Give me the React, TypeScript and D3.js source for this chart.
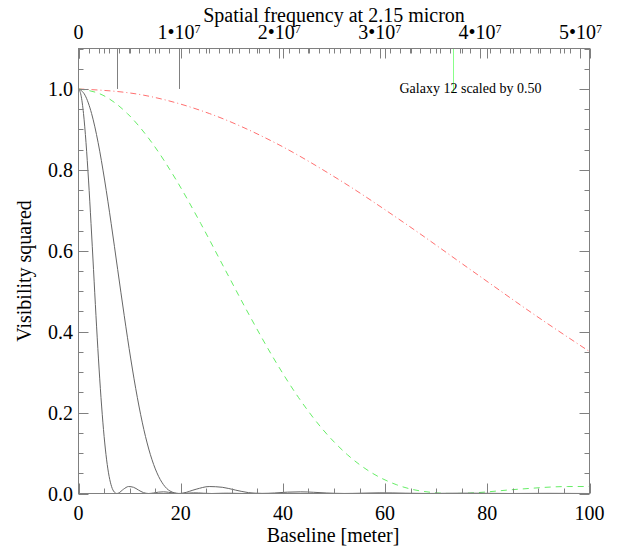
import React from 'react';
import * as d3 from 'd3';

// bottom axis (baseline, metres) and left axis (visibility squared)
const baselineTicks = [0, 20, 40, 60, 80, 100];
const visTicks = [0, 0.2, 0.4, 0.6, 0.8, 1.0];
// top axis, spatial frequency: mantissa of n•10^7
const freqTicks = [0, 1e7, 2e7, 3e7, 4e7, 5e7];
const freqMantissa = ['0', '1', '2', '3', '4', '5'];

// narrow source (black, first null ~7.5 m)
const narrowBase = [0, 0.49, 0.98, 1.47, 1.96, 2.45, 2.94, 3.42, 3.91, 4.4, 4.89, 5.38, 5.87, 6.36, 6.85, 7.5, 7.83, 8.81, 9.79, 10.76, 11.74, 12.72, 13.73, 14.68, 15.66, 16.64, 17.61, 18.59, 19.9, 20.55, 21.53, 22.51, 23.48, 24.46, 26.07, 27.4, 28.38, 29.36, 32.2, 35, 38.4, 41.5, 44.5, 50, 100];
const narrowVis = [1, 0.9845, 0.9393, 0.8674, 0.7748, 0.6677, 0.5534, 0.4396, 0.3326, 0.2376, 0.1581, 0.096, 0.0511, 0.022, 0.0062, 0, 0.0011, 0.0106, 0.0172, 0.0154, 0.0085, 0.0022, 0, 0.0013, 0.0034, 0.0041, 0.003, 0.0012, 0, 0.0002, 0.001, 0.0016, 0.0014, 0.0007, 0, 0.0004, 0.0007, 0.0008, 0, 0.0004, 0, 0.0003, 0, 0.0001, 0];

// wider source (black, first null ~19.6 m)
const wideBase = [0, 1.28, 2.56, 3.84, 5.11, 6.39, 7.67, 8.95, 10.23, 11.51, 12.79, 14.07, 15.35, 16.62, 17.9, 19.6, 20.46, 23.02, 25.58, 28.13, 30.69, 33.25, 35.89, 38.36, 40.92, 43.48, 46.03, 48.59, 52.02, 53.71, 56.27, 58.82, 61.38, 63.94, 68.13, 71.61, 74.17, 76.73, 84.2, 89.5, 92.1, 94.6, 100];
const wideVis = [1, 0.9845, 0.9393, 0.8674, 0.7748, 0.6677, 0.5534, 0.4396, 0.3326, 0.2376, 0.1581, 0.096, 0.0511, 0.022, 0.0062, 0, 0.0011, 0.0106, 0.0172, 0.0154, 0.0085, 0.0022, 0, 0.0013, 0.0034, 0.0041, 0.003, 0.0012, 0, 0.0002, 0.001, 0.0016, 0.0014, 0.0007, 0, 0.0004, 0.0007, 0.0008, 0, 0.0003, 0.0004, 0.0003, 0];

// Galaxy 12 (green dashed)
const galaxyBase = [0, 4.78, 9.56, 14.35, 19.13, 23.91, 28.69, 33.48, 38.26, 43.04, 47.82, 52.61, 57.39, 62.17, 66.95, 73.3, 76.52, 86.08, 95.65, 100];
const galaxyVis = [1, 0.9845, 0.9393, 0.8674, 0.7748, 0.6677, 0.5534, 0.4396, 0.3326, 0.2376, 0.1581, 0.096, 0.0511, 0.022, 0.0062, 0, 0.0011, 0.0106, 0.0172, 0.0173];

// scaled comparison (red dash-dot)
const scaledBase = [0, 12.8, 25.6, 38.4, 51.1, 63.9, 76.7, 89.5, 100];
const scaledVis = [1, 0.9845, 0.9393, 0.8674, 0.7748, 0.6677, 0.5534, 0.4396, 0.3509];

// resolution markers hanging from the top axis (baseline, m)
const darkMarkers = [7.5, 19.6];
const galaxyMarker = 73.3;

const W = 626;
const H = 548;
const FONT = "'Liberation Serif', 'Times New Roman', serif";
const FRAME = '#808080';

export default function App() {
  const left = 78.5, right = 589.5, top = 48.5, bottom = 493.5;

  const x = d3.scaleLinear().domain([0, 100]).range([left, right]);
  const y = d3.scaleLinear().domain([0, 1.1]).range([bottom, top]);
  const fx = d3.scaleLinear().domain([0, 5.09e7]).range([left, right]);

  const line = d3.line<[number, number]>()
    .x((d) => x(d[0]))
    .y((d) => y(d[1]))
    .curve(d3.curveMonotoneX);

  const zip = (a: number[], b: number[]) => a.map((v, i) => [v, b[i]] as [number, number]);

  const xMinor = x.ticks(20);
  const yMinor = d3.range(0, 1.1001, 0.05);
  const fMinor = fx.ticks(50);

  const isMajorX = (v: number) => Math.abs(v % 20) < 1e-6;
  const isMajorY = (v: number) => Math.abs(Math.round(v * 10) - v * 10) < 1e-6 && Math.round(v * 10) % 2 === 0;
  const isMajorF = (v: number) => Math.abs(v % 1e7) < 1;

  return (
    <svg width={W} height={H} style={{ position: 'absolute', left: 0, top: 0, background: '#fff' }}>
      <rect x={0} y={0} width={W} height={H} fill="#fff" />

      {/* curves */}
      <g fill="none" strokeWidth={1}>
        <path d={line(zip(scaledBase, scaledVis)) || ''} stroke="#ff7070" strokeDasharray="6,3,1,3" />
        <path d={line(zip(galaxyBase, galaxyVis)) || ''} stroke="#66ee66" strokeDasharray="6,5" />
        <path d={line(zip(wideBase, wideVis)) || ''} stroke="#666" />
        <path d={line(zip(narrowBase, narrowVis)) || ''} stroke="#666" />
      </g>

      {/* markers */}
      {darkMarkers.map((m) => (
        <line key={m} x1={Math.round(x(m)) + 0.5} x2={Math.round(x(m)) + 0.5} y1={top} y2={y(1.0)} stroke="#808080" />
      ))}
      <line x1={Math.round(x(galaxyMarker)) + 0.5} x2={Math.round(x(galaxyMarker)) + 0.5} y1={top} y2={y(0.99)} stroke="#88ff88" />

      {/* frame */}
      <rect x={left} y={top} width={right - left} height={bottom - top} fill="none" stroke={FRAME} />

      {/* baseline ticks, bottom and top */}
      <g stroke={FRAME}>
        {xMinor.map((v) => {
          const len = isMajorX(v) ? 10 : 5;
          const px = Math.round(x(v)) + 0.5;
          return (
            <g key={v}>
              <line x1={px} x2={px} y1={bottom} y2={bottom - len} />
              <line x1={px} x2={px} y1={top} y2={top + len} />
            </g>
          );
        })}
        {fMinor.map((v) => {
          const len = isMajorF(v) ? 10 : 5;
          const px = Math.round(fx(v)) + 0.5;
          return <line key={v} x1={px} x2={px} y1={top} y2={top + len} />;
        })}
        {yMinor.map((v) => {
          const len = isMajorY(v) ? 10 : 5;
          const py = Math.round(y(v)) + 0.5;
          return (
            <g key={v}>
              <line x1={left} x2={left + len} y1={py} y2={py} />
              <line x1={right} x2={right - len} y1={py} y2={py} />
            </g>
          );
        })}
      </g>

      <g fontFamily={FONT} fill="#000">
        {/* bottom tick labels */}
        {baselineTicks.map((v) => (
          <text key={v} x={x(v)} y={520} fontSize={20} textAnchor="middle">{v}</text>
        ))}
        {/* left tick labels */}
        {visTicks.map((v) => (
          <text key={v} x={73} y={y(v) + 7} fontSize={20} textAnchor="end">{v.toFixed(1)}</text>
        ))}
        {/* top tick labels */}
        {freqTicks.map((v, i) => (
          <text key={v} x={fx(v)} y={39} fontSize={20} textAnchor="middle">
            {v === 0 ? '0' : (
              <>
                {`${freqMantissa[i]}\u202210`}
                <tspan fontSize={12} dy={-6}>7</tspan>
              </>
            )}
          </text>
        ))}

        <text x={334} y={22} fontSize={20} textAnchor="middle">Spatial frequency at 2.15 micron</text>
        <text x={333} y={542} fontSize={20} textAnchor="middle">Baseline [meter]</text>
        <text transform="translate(31,271) rotate(-90)" fontSize={20} textAnchor="middle">Visibility squared</text>
        <text x={399.5} y={93} fontSize={14}>Galaxy 12 scaled by 0.50</text>
      </g>
    </svg>
  );
}
